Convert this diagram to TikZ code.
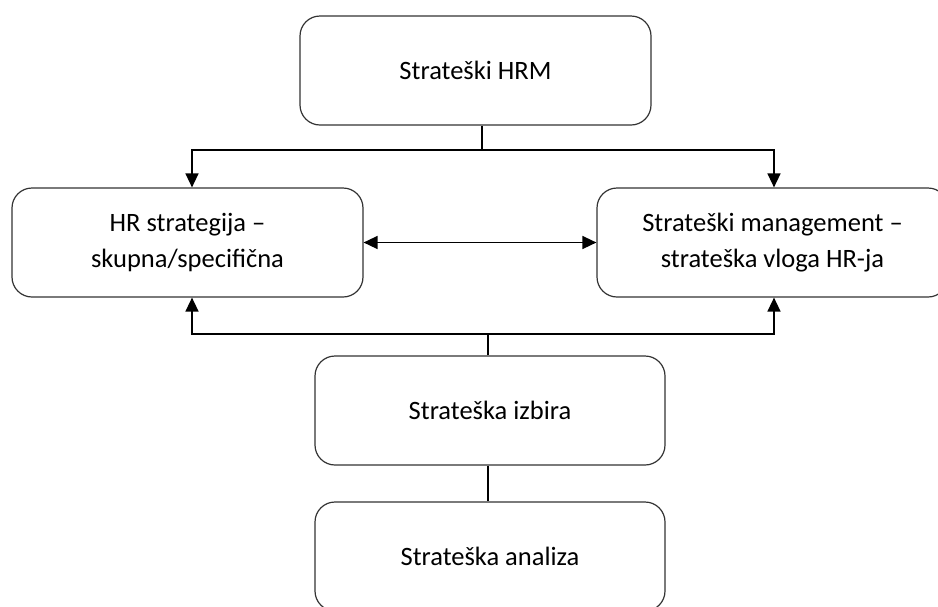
\documentclass[tikz,border=0pt]{standalone}
\usepackage{fontspec}
\setmainfont{Carlito}
\usetikzlibrary{arrows.meta}
\begin{document}
\begin{tikzpicture}[x=1pt,y=-1pt,
  box/.style={draw=black!80, line width=1.2pt, rounded corners=20pt, rectangle,
    minimum width=351pt, minimum height=109pt, inner sep=0pt, align=center,
    font=\fontsize{26.5}{36}\selectfont},
  conn/.style={draw=black, line width=1.5pt},
  arr/.style={conn, -{Triangle[length=14pt,width=13pt]}},
  darr/.style={conn, {Triangle[length=14pt,width=13pt]}-{Triangle[length=14pt,width=13pt]}}]
\useasboundingbox (0,0) rectangle (938,606);
\clip (0,0) rectangle (938,606);
\node[box] (top) at (475.5,70.5) {Strateški HRM};
\node[box] (left) at (187.5,242.5) {HR strategija –\\skupna/specifična};
\node[box] (right) at (772.5,242.5) {Strateški management –\\strateška vloga HR-ja};
\node[box, minimum width=350pt] (mid) at (490,410.5) {Strateška izbira};
\node[box, minimum width=350pt] (bot) at (490,556.5) {Strateška analiza};
\coordinate (j1) at (482,150);
\coordinate (j2) at (488,334);
\coordinate (la) at (192,0);
\coordinate (ra) at (774,0);
\draw[conn] (top.south -| j1) -- (j1);
\draw[arr] (j1) -| (left.north -| la);
\draw[arr] (j1) -| (right.north -| ra);
\draw[darr] (left.east) -- (right.west |- left.east);
\draw[conn] (mid.north -| j2) -- (j2);
\draw[arr] (j2) -| (left.south -| la);
\draw[arr] (j2) -| (right.south -| ra);
\draw[conn] (mid.south -| j2) -- (bot.north -| j2);
\end{tikzpicture}
\end{document}
